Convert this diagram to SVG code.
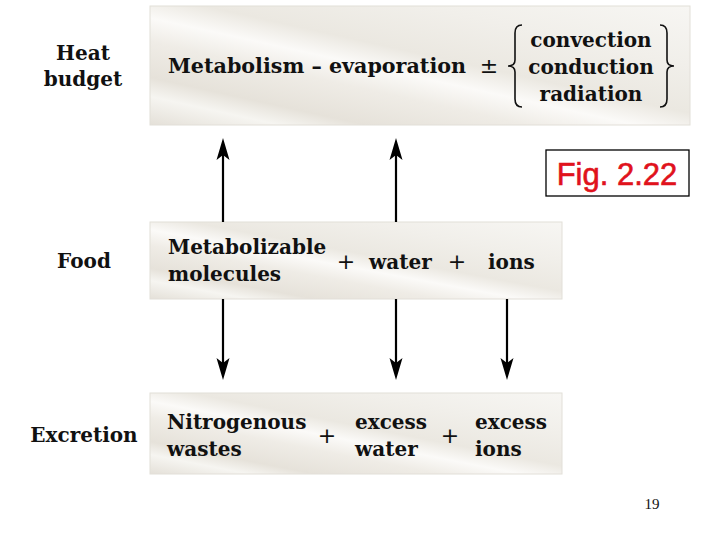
<svg xmlns="http://www.w3.org/2000/svg" width="720" height="540" viewBox="0 0 720 540">
<defs>
<linearGradient id="paper" x1="0" y1="1" x2="1" y2="0">
<stop offset="0" stop-color="#e4e0d8"/>
<stop offset="0.12" stop-color="#f6f5f1"/>
<stop offset="0.2" stop-color="#e6e2da"/>
<stop offset="0.35" stop-color="#efece6"/>
<stop offset="0.45" stop-color="#fbfaf8"/>
<stop offset="0.55" stop-color="#ebe8e1"/>
<stop offset="0.75" stop-color="#f1efea"/>
<stop offset="1" stop-color="#f7f6f3"/>
</linearGradient>
<marker id="head" markerUnits="userSpaceOnUse" viewBox="0 -7 24 14" refX="10" refY="0" markerWidth="24" markerHeight="14" orient="auto">
<path d="M22,0 L0,-6.5 L5,0 L0,6.5 Z" fill="#000"/>
</marker>
</defs>
<style>
.box{fill:url(#paper);stroke:#e2dfd8;stroke-width:1}
.t{font-family:"DejaVu Serif","Liberation Serif",serif;font-weight:bold;font-size:20px;fill:#111}
.lbl{font-family:"DejaVu Serif","Liberation Serif",serif;font-weight:bold;font-size:20px;fill:#111}
.op{font-family:"DejaVu Sans","Liberation Sans",sans-serif;font-size:22px;fill:#111}
.conn{stroke:#000;stroke-width:2.2;fill:none;marker-end:url(#head)}
.brace{stroke:#111;stroke-width:1.6;fill:none}
</style>
<rect width="720" height="540" fill="#fff"/>

<g id="heat-label">
<text class="lbl" x="83" y="60" text-anchor="middle">Heat</text>
<text class="lbl" x="83" y="86" text-anchor="middle">budget</text>
</g>
<g id="heat-budget">
<rect class="box" x="150" y="6" width="540" height="119"/>
<text class="t" x="168" y="73" textLength="298" lengthAdjust="spacingAndGlyphs">Metabolism – evaporation</text>
<text class="op" x="489" y="73" text-anchor="middle">±</text>
<path class="brace" d="M522,25 Q515,25 515,33 L515,60 Q515,66 508,66 Q515,66 515,72 L515,99 Q515,107 522,107"/>
<text class="t" x="591" y="47" text-anchor="middle">convection</text>
<text class="t" x="591" y="74" text-anchor="middle">conduction</text>
<text class="t" x="591" y="101" text-anchor="middle">radiation</text>
<path class="brace" d="M660,25 Q667,25 667,33 L667,60 Q667,66 674,66 Q667,66 667,72 L667,99 Q667,107 660,107"/>
</g>

<g id="fig-label">
<rect x="546" y="150" width="143" height="46" fill="#fff" stroke="#000" stroke-width="1.3"/>
<text x="617" y="185" text-anchor="middle" font-family="Liberation Sans, Arial, sans-serif" font-size="31" fill="#e0121c" stroke="#e0121c" stroke-width="0.6">Fig. 2.22</text>
</g>

<g id="food-label">
<text class="lbl" x="84" y="268" text-anchor="middle">Food</text>
</g>
<g id="food">
<rect class="box" x="150" y="222" width="412" height="77"/>
<text class="t" x="168" y="254">Metabolizable</text>
<text class="t" x="168" y="281">molecules</text>
<text class="op" x="346" y="269" text-anchor="middle">+</text>
<text class="t" x="369" y="269">water</text>
<text class="op" x="457" y="269" text-anchor="middle">+</text>
<text class="t" x="488" y="269">ions</text>
</g>

<g id="excretion-label">
<text class="lbl" x="84" y="442" text-anchor="middle">Excretion</text>
</g>
<g id="excretion">
<rect class="box" x="150" y="393" width="412" height="81"/>
<text class="t" x="167" y="429">Nitrogenous</text>
<text class="t" x="167" y="456">wastes</text>
<text class="op" x="327" y="443" text-anchor="middle">+</text>
<text class="t" x="355" y="429">excess</text>
<text class="t" x="355" y="456">water</text>
<text class="op" x="450" y="443" text-anchor="middle">+</text>
<text class="t" x="475" y="429">excess</text>
<text class="t" x="475" y="456">ions</text>
</g>

<g id="connectors">
<line class="conn" x1="223" y1="222" x2="223" y2="150"/>
<line class="conn" x1="396" y1="222" x2="396" y2="150"/>
<line class="conn" x1="223" y1="299" x2="223" y2="368"/>
<line class="conn" x1="396" y1="299" x2="396" y2="368"/>
<line class="conn" x1="507" y1="299" x2="507" y2="368"/>
</g>

<text x="652" y="509" text-anchor="middle" font-family="Liberation Serif, serif" font-size="15" fill="#111">19</text>
</svg>
